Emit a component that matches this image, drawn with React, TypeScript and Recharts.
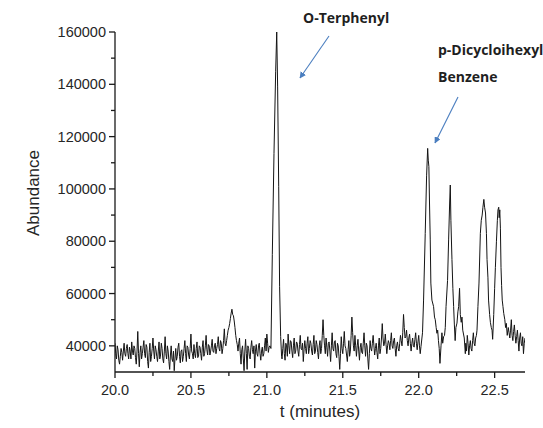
import React from "react";
import { LineChart, Line, XAxis, YAxis } from "recharts";

// Abundance values are in thousands; each tuple is [time (min), abundance (k)]
const baselineEarly: [number, number][] = [
  [20.00,41],[20.01,35],[20.02,38.5],[20.03,33],[20.04,39],[20.05,34.5],[20.06,41],[20.07,36],[20.08,40.5],[20.09,35],
  [20.10,38],[20.11,41.5],[20.12,36.5],[20.13,39],[20.14,33],[20.15,45.5],[20.16,32],[20.17,40],[20.18,37],[20.19,42],
  [20.20,35.5],[20.21,39.5],[20.22,31.5],[20.23,41],[20.24,36],[20.25,43],[20.26,35],[20.27,38.5],[20.28,34],[20.29,41.5],
  [20.30,36.5],[20.31,39],[20.32,33.5],[20.33,43.5],[20.34,35],[20.35,38],[20.36,31],[20.37,40],[20.38,34],[20.39,30.5],
  [20.40,39],[20.41,36],[20.42,41],[20.43,33.5],[20.44,38.5],[20.45,36],[20.46,42],[20.47,34],[20.48,39.5],[20.49,35],
  [20.50,44.5],[20.51,37],[20.52,40.5],[20.53,35.5],[20.54,41.5],[20.55,36],[20.56,39.5],[20.57,34.5],[20.58,42],[20.59,37],
  [20.60,44],[20.61,36.5],[20.62,40],[20.63,38],[20.64,42.5],[20.65,37.5],[20.66,41],[20.67,39],[20.68,43.5],[20.69,38],
  [20.70,41],[20.71,39],[20.72,46.5],[20.73,40],
];

const baselineEarlyFine: [number, number][] = [
  [20.005,37],[20.015,40],[20.025,34.5],[20.035,36],[20.045,37.5],[20.055,38],[20.065,37],[20.075,39],[20.085,37],[20.095,39.5],
  [20.105,35],[20.115,38],[20.125,40],[20.135,35.5],[20.145,38],[20.155,37],[20.165,37.5],[20.175,35],[20.185,39.5],[20.195,37],
  [20.205,40.5],[20.215,34],[20.225,37.5],[20.235,34],[20.245,39],[20.255,38],[20.265,40],[20.275,36],[20.285,38],[20.295,35],
  [20.305,41],[20.315,35],[20.325,38],[20.335,37],[20.345,40],[20.355,34],[20.365,36.5],[20.375,35],[20.385,38],[20.395,35],
  [20.405,34.5],[20.415,39.5],[20.425,36],[20.435,38],[20.445,34],[20.455,39],[20.465,37],[20.475,40],[20.485,36.5],[20.495,39],
  [20.505,38],[20.515,35],[20.525,37],[20.535,39],[20.545,35.5],[20.555,40],[20.565,37],[20.575,39.5],[20.585,36],[20.595,40],
  [20.605,38.5],[20.615,40.5],[20.625,36.5],[20.635,40],[20.645,38],[20.655,40],[20.665,37],[20.675,40.5],[20.685,39],[20.695,42],
  [20.705,37],[20.715,42],[20.725,41],[20.735,42],
];

const smallBump: [number, number][] = [
  [20.74,44],[20.745,46],[20.75,47],[20.755,48.5],[20.76,50.5],[20.765,52.5],[20.77,54],[20.775,52],[20.78,51.5],
  [20.785,49.5],[20.79,47],[20.795,44],[20.80,42],
];

const baselinePreTerphenyl: [number, number][] = [
  [20.805,40.5],[20.81,38],[20.815,41],[20.82,43],[20.825,37],[20.83,33],[20.835,38.5],[20.84,40],[20.845,35],[20.85,30.5],
  [20.855,38],[20.86,42.5],[20.865,37],[20.87,31],[20.875,40],[20.88,39],[20.885,36],[20.89,35],[20.895,39.5],
  [20.90,42],[20.905,38.5],[20.91,37],[20.915,40],[20.92,31.5],[20.925,38],[20.93,40.5],[20.935,37],[20.94,36],[20.945,40],
  [20.95,41],[20.955,37],[20.96,34.5],[20.965,38],[20.97,39.5],[20.975,36],[20.98,37],[20.985,40],[20.99,43],[20.995,38],
  [21.00,44.5],[21.005,41],[21.01,37.5],[21.015,39.5],[21.02,40],
];

const terphenylPeak: [number, number][] = [
  [21.027,39],[21.036,75],[21.047,113.6],[21.058,145],[21.065,160],[21.071,139],[21.078,101],[21.084,62.6],[21.091,43.5],[21.097,36],
];

const baselineMiddle: [number, number][] = [
  [21.10,35],[21.11,42.5],[21.12,34.5],[21.13,40],[21.14,44.5],[21.15,37],[21.16,41.5],[21.17,35.5],[21.18,43],[21.19,38],
  [21.20,41],[21.21,36],[21.22,44],[21.23,38.5],[21.24,34],[21.25,42],[21.26,37],[21.27,43.5],[21.28,39],[21.29,41],
  [21.30,36.5],[21.31,44],[21.32,38],[21.33,40.5],[21.34,35],[21.35,42],[21.36,39],[21.37,50],[21.38,40],[21.39,43],
  [21.40,36],[21.41,41.5],[21.42,34],[21.43,45],[21.44,38],[21.45,42],[21.46,35.5],[21.47,40],[21.48,31],[21.49,43.5],
  [21.50,37],[21.51,45.5],[21.52,39],[21.53,34],[21.54,42],[21.55,38],[21.56,51],[21.57,40],[21.58,44],[21.59,36],
  [21.60,42.5],[21.61,34.5],[21.62,41],[21.63,37],[21.64,45],[21.65,36],[21.66,40],[21.67,31],[21.68,42],[21.69,38],
  [21.70,44],[21.71,36.5],[21.72,41],[21.73,35],[21.74,43],[21.75,39],[21.76,48.5],[21.77,40],[21.78,44.5],[21.79,37],
  [21.80,42],[21.81,38.5],[21.82,45],[21.83,39],[21.84,43],[21.85,36],[21.86,41.5],[21.87,38],[21.88,44],[21.89,40],
  [21.90,52],[21.91,43],[21.92,46],[21.93,40],[21.94,44.5],[21.95,38],[21.96,43],[21.97,39.5],[21.98,45],[21.99,38.5],
  [22.00,44],[22.01,37],[22.015,39.7],
];

const baselineMiddleFine: [number, number][] = [
  [21.105,39],[21.115,37],[21.125,41],[21.135,36],[21.145,40],[21.155,42],[21.165,38],[21.175,40],[21.185,37],[21.195,41.5],
  [21.205,38],[21.215,40.5],[21.225,39],[21.235,41],[21.245,38.5],[21.255,39],[21.265,41],[21.275,37],[21.285,42],[21.295,38],
  [21.305,40.5],[21.315,37],[21.325,42],[21.335,37.5],[21.345,40],[21.355,37],[21.365,44],[21.375,44],[21.385,37],[21.395,39.5],
  [21.405,41],[21.415,38],[21.425,40],[21.435,39],[21.445,41.5],[21.455,37],[21.465,41],[21.475,36],[21.485,37],[21.495,39],
  [21.505,41],[21.515,40],[21.525,36.5],[21.535,38.5],[21.545,36],[21.555,44],[21.565,45],[21.575,38],[21.585,40],[21.595,40],
  [21.605,38],[21.615,39.5],[21.625,37.5],[21.635,41],[21.645,40],[21.655,41],[21.665,35],[21.675,37],[21.685,39],[21.695,41],
  [21.705,40],[21.715,39],[21.725,37.5],[21.735,40],[21.745,37],[21.755,43],[21.765,43],[21.775,41],[21.785,40.5],[21.795,40],
  [21.805,41],[21.815,42],[21.825,40],[21.835,42],[21.845,39],[21.855,40],[21.865,39],[21.875,41],[21.885,42],[21.895,45],
  [21.905,47],[21.915,43.5],[21.925,42],[21.935,43],[21.945,41],[21.955,41],[21.965,40],[21.975,42.5],[21.985,41],[21.995,41.5],
  [22.005,40],
];

const dicyclohexylPeaks: [number, number][] = [
  [22.025,45],[22.032,57.5],[22.043,83],[22.052,105],[22.059,115.5],[22.063,111],[22.067,108.5],[22.071,95],[22.076,80.5],
  [22.08,64],[22.087,57.5],[22.098,55],[22.104,51],[22.109,50],[22.115,47],[22.12,44.8],[22.125,46],[22.13,42],[22.135,39],
  [22.14,33.3],[22.147,40],[22.153,45],[22.158,41],[22.164,43.5],[22.17,44],[22.175,47],[22.18,55],[22.19,65],[22.197,80.5],
  [22.204,95],[22.208,101.5],[22.212,88],[22.219,73],[22.225,62],[22.23,55],[22.235,48],[22.24,42],[22.245,47],[22.252,48.7],
  [22.258,53],[22.263,55],[22.269,62],[22.274,52],[22.28,49],[22.285,51],[22.29,46],[22.30,43],[22.307,37],
  [22.31,41],[22.315,38],[22.32,44],[22.325,41],[22.33,36.5],[22.335,40],[22.34,42],[22.345,39],[22.35,38],[22.355,42],
  [22.36,45],[22.365,41],[22.37,40],[22.375,43],[22.38,44],
  [22.384,46],[22.39,55],[22.397,64],[22.406,83],[22.412,88],[22.418,90],[22.423,93],[22.429,96],[22.434,93],[22.44,90.8],
  [22.446,83],[22.45,73],[22.456,66],[22.46,57.5],[22.467,52],[22.472,49],[22.478,47],[22.483,46],[22.487,42.5],
  [22.494,52],[22.50,62],[22.505,70],[22.512,80],[22.518,88],[22.522,92],[22.527,93],[22.53,89],[22.534,92],[22.538,85],
  [22.542,70],[22.546,63],[22.55,57.5],[22.555,55],[22.56,52.4],[22.567,50],[22.572,47],[22.577,48.6],[22.583,44],[22.59,47],
];

const baselineTail: [number, number][] = [
  [22.595,45],[22.60,43],[22.605,46],[22.61,50],[22.615,44],[22.62,42],[22.625,45.5],[22.63,48],[22.635,44],[22.64,41],
  [22.645,43.5],[22.65,46],[22.655,42],[22.66,38],[22.665,43],[22.67,45],[22.675,41],[22.68,40],[22.685,43.5],[22.69,37],
  [22.695,41],[22.70,43],
];

const xTicks = [20, 20.25, 20.5, 20.75, 21, 21.25, 21.5, 21.75, 22, 22.25, 22.5];
const yTicks = [30000, 40000, 50000, 60000, 70000, 80000, 90000, 100000, 110000, 120000, 130000, 140000, 150000, 160000];

const chartData = [
  ...baselineEarly,
  ...baselineEarlyFine,
  ...smallBump,
  ...baselinePreTerphenyl,
  ...terphenylPeak,
  ...baselineMiddle,
  ...baselineMiddleFine,
  ...dicyclohexylPeaks,
  ...baselineTail,
]
  .slice()
  .sort((a, b) => a[0] - b[0])
  .map(([t, k]) => ({ t, abundance: k * 1000 }));

const AXIS_COLOR = "#1a1a1a";
const TEXT_COLOR = "#262626";
const FONT = "Arial, 'Liberation Sans', sans-serif";

const XTick = (props: any) => {
  const { x, y, payload } = props;
  const v = payload.value as number;
  const major = Math.abs(v * 2 - Math.round(v * 2)) < 1e-6;
  return (
    <g>
      <line x1={x} y1={y} x2={x} y2={y + (major ? 6 : 4)} stroke={AXIS_COLOR} strokeWidth={1.3} />
      {major && (
        <text x={x} y={y + 23} textAnchor="middle" fontSize={14.5} fill={TEXT_COLOR} fontFamily={FONT}>
          {v.toFixed(1)}
        </text>
      )}
    </g>
  );
};

const YTick = (props: any) => {
  const { x, y, payload } = props;
  const v = payload.value as number;
  if (v === 30000) return <g />;
  const major = v % 20000 === 0;
  return (
    <g>
      <line x1={x - (major ? 6 : 4)} y1={y} x2={x} y2={y} stroke={AXIS_COLOR} strokeWidth={1.3} />
      {major && (
        <text x={x - 9} y={y + 5} textAnchor="end" fontSize={14.5} fill={TEXT_COLOR} fontFamily={FONT}>
          {v}
        </text>
      )}
    </g>
  );
};

export default function App() {
  const arrowColor = "#4a7ebf";
  return (
    <div style={{ position: "relative", width: 543, height: 428, background: "#fff" }}>
      <style>{`body{margin:0;overflow:hidden;background:#fff}`}</style>
      <LineChart width={543} height={428} data={chartData} margin={{ top: 32, right: 18, bottom: 0, left: 0 }}>
        <XAxis
          dataKey="t"
          type="number"
          domain={[20, 22.7]}
          allowDataOverflow
          ticks={xTicks}
          interval={0}
          tick={<XTick />}
          tickSize={0}
          tickMargin={0}
          tickLine={false}
          height={56}
          axisLine={{ stroke: AXIS_COLOR, strokeWidth: 1.3 }}
        />
        <YAxis
          type="number"
          domain={[30000, 160000]}
          allowDataOverflow
          ticks={yTicks}
          interval={0}
          tick={<YTick />}
          tickSize={0}
          tickMargin={0}
          tickLine={false}
          width={115}
          axisLine={{ stroke: AXIS_COLOR, strokeWidth: 1.3 }}
        />
        <Line
          type="linear"
          dataKey="abundance"
          stroke="#141414"
          strokeWidth={1}
          dot={false}
          activeDot={false}
          isAnimationActive={false}
        />
      </LineChart>
      <svg
        width={543}
        height={428}
        style={{ position: "absolute", left: 0, top: 0, pointerEvents: "none" }}
      >
        <defs>
          <marker id="arrowHead" viewBox="0 0 10 10" refX="9" refY="5" markerWidth="6" markerHeight="6" orient="auto-start-reverse">
            <path d="M0,0 L10,5 L0,10 z" fill={arrowColor} />
          </marker>
        </defs>
        <text x={320} y={417} textAnchor="middle" fontSize={17} fill={TEXT_COLOR} fontFamily={FONT}>
          t (minutes)
        </text>
        <text
          x={0}
          y={0}
          transform="translate(39,193) rotate(-90)"
          textAnchor="middle"
          fontSize={17}
          fill={TEXT_COLOR}
          fontFamily={FONT}
        >
          Abundance
        </text>
        <text x={303} y={23} fontSize={14} fontWeight={700} fill="#1f1f1f" fontFamily="'Open Sans', sans-serif">
          O-Terphenyl
        </text>
        <text x={438} y={54.5} fontSize={14} fontWeight={700} fill="#1f1f1f" fontFamily="'Open Sans', sans-serif">
          p-Dicycloihexyl
        </text>
        <text x={438} y={82} fontSize={14} fontWeight={700} fill="#1f1f1f" fontFamily="'Open Sans', sans-serif">
          Benzene
        </text>
        <line x1={329} y1={36} x2={300} y2={78} stroke={arrowColor} strokeWidth={1.1} markerEnd="url(#arrowHead)" />
        <line x1={458} y1={97} x2={435} y2={143} stroke={arrowColor} strokeWidth={1.1} markerEnd="url(#arrowHead)" />
      </svg>
    </div>
  );
}
